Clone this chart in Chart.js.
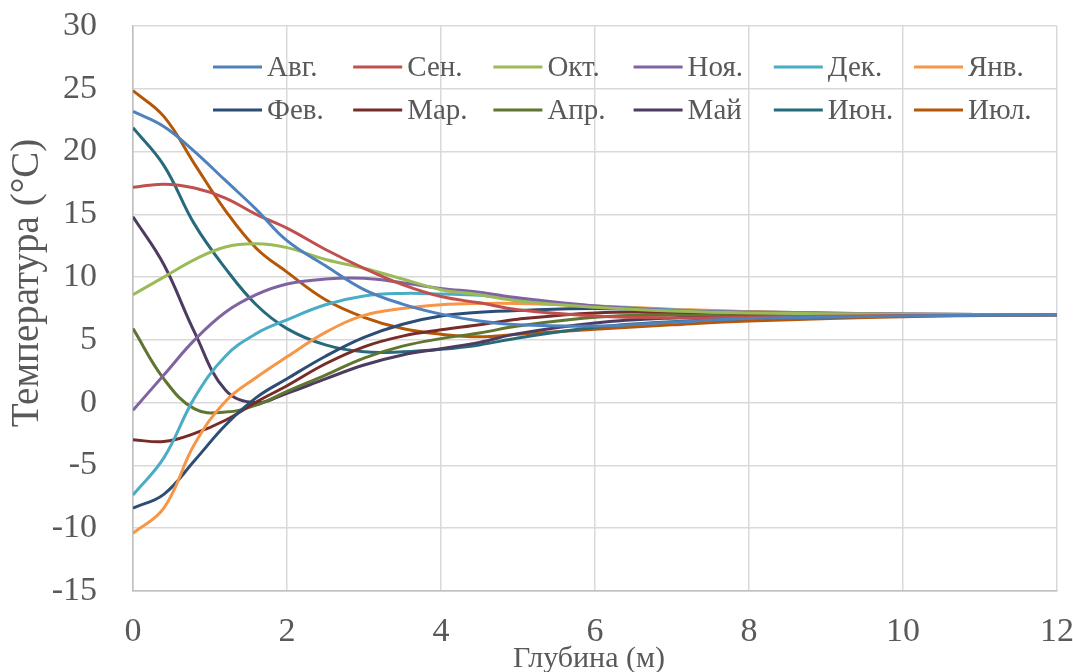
<!DOCTYPE html>
<html>
<head>
<meta charset="utf-8">
<script src="https://cdn.jsdelivr.net/npm/chart.js@4"></script>
<style>
  html, body { margin: 0; padding: 0; background: #fff; }
</style>
</head>
<body>
<canvas id="tempChart" width="1073" height="672"></canvas>
<script>
// Depth (m) and monthly ground temperature profiles (°C)
const depths = [0, 0.4, 0.8, 1.2, 1.6, 2, 2.5, 3, 3.5, 4, 4.5, 5, 6, 7, 8, 10, 12];
const months = ['Авг.', 'Сен.', 'Окт.', 'Ноя.', 'Дек.', 'Янв.', 'Фев.', 'Мар.', 'Апр.', 'Май', 'Июн.', 'Июл.'];

const aug = [23.2, 22.0, 20.0, 17.7, 15.4, 12.9, 10.9, 9.0, 7.85, 7.05, 6.5, 6.2, 6.1, 6.4, 6.7, 6.9, 7.0];
const sep = [17.15, 17.4, 17.1, 16.3, 15.0, 13.9, 12.2, 10.7, 9.4, 8.45, 7.95, 7.4, 6.9, 6.75, 6.8, 6.95, 7.0];
const oct = [8.6, 10.0, 11.4, 12.4, 12.65, 12.35, 11.4, 10.7, 9.85, 9.0, 8.6, 8.1, 7.6, 7.3, 7.15, 7.05, 7.0];
const nov = [-0.6, 2.2, 5.0, 7.2, 8.6, 9.45, 9.85, 9.9, 9.55, 9.1, 8.8, 8.35, 7.7, 7.35, 7.2, 7.05, 7.0];
const dec = [-7.35, -4.4, 0.4, 3.7, 5.5, 6.6, 7.8, 8.5, 8.7, 8.65, 8.55, 8.2, 7.7, 7.4, 7.2, 7.05, 7.0];
const jan = [-10.4, -8.4, -3.3, 0.1, 2.0, 3.65, 5.6, 6.95, 7.5, 7.8, 7.9, 7.9, 7.7, 7.45, 7.25, 7.05, 7.0];
const feb = [-8.4, -7.3, -4.6, -1.8, 0.4, 1.9, 3.7, 5.2, 6.25, 6.9, 7.2, 7.35, 7.5, 7.35, 7.25, 7.05, 7.0];
const mar = [-2.95, -3.1, -2.45, -1.4, 0.05, 1.35, 3.1, 4.45, 5.3, 5.8, 6.2, 6.65, 7.15, 7.2, 7.15, 7.05, 7.0];
const apr = [5.9, 1.9, -0.5, -0.75, -0.2, 0.9, 2.2, 3.55, 4.5, 5.1, 5.55, 6.1, 6.8, 7.0, 7.05, 7.0, 7.0];
const may = [14.8, 11.0, 5.6, 1.0, 0.0, 0.75, 1.9, 3.0, 3.8, 4.3, 4.8, 5.5, 6.35, 6.75, 6.9, 6.95, 7.0];
const jun = [21.9, 18.9, 14.2, 10.7, 7.8, 5.9, 4.6, 4.05, 4.05, 4.25, 4.6, 5.15, 6.0, 6.45, 6.7, 6.9, 7.0];
const jul = [24.85, 22.8, 19.0, 15.3, 12.3, 10.4, 8.2, 6.8, 5.9, 5.45, 5.25, 5.45, 5.85, 6.2, 6.5, 6.85, 7.0];

const series = [aug, sep, oct, nov, dec, jan, feb, mar, apr, may, jun, jul];
const colors = ['#4F81BD', '#C0504D', '#9BBB59', '#8064A2', '#4BACC6', '#F79646',
                '#2C4D75', '#772C2A', '#5F7530', '#4D3B62', '#276A7C', '#B65708'];

const xTitle = 'Глубина (м)';
const yTitle = 'Температура (°C)';

const FONT = '"Liberation Serif", "Times New Roman", serif';
const TEXT = '#595959';
Chart.defaults.font.family = FONT;
Chart.defaults.color = TEXT;

// legend drawn as a 6x2 grid inside the plot, plus axis titles placed like the original
const chartText = {
    id: 'chartText',
    afterDraw(chart) {
        const ctx = chart.ctx;
        ctx.save();
        ctx.font = '29px ' + FONT;
        ctx.fillStyle = TEXT;
        ctx.textBaseline = 'middle';
        chart.data.datasets.forEach((ds, i) => {
            const x = 213 + (i % 6) * 140.2;
            const y = 67 + Math.floor(i / 6) * 43;
            ctx.strokeStyle = ds.borderColor;
            ctx.lineWidth = 3;
            ctx.beginPath();
            ctx.moveTo(x, y);
            ctx.lineTo(x + 49, y);
            ctx.stroke();
            ctx.fillText(ds.label, x + 54, y + 1);
        });

        ctx.textAlign = 'center';
        ctx.font = '30px ' + FONT;
        ctx.fillText(xTitle, 589, 659);

        ctx.font = '39px ' + FONT;
        ctx.translate(28, 283);
        ctx.rotate(-Math.PI / 2);
        ctx.fillText(yTitle, 0, 0);
        ctx.restore();
    }
};

const ctx = document.getElementById('tempChart').getContext('2d');
new Chart(ctx, {
    type: 'line',
    data: {
        datasets: series.map((vals, i) => ({
            label: months[i],
            data: depths.map((d, j) => ({ x: d, y: vals[j] })),
            borderColor: colors[i],
            backgroundColor: colors[i],
            borderWidth: 3,
            pointRadius: 0,
            tension: 0.4,
            fill: false
        }))
    },
    options: {
        responsive: false,
        animation: false,
        devicePixelRatio: 1,
        layout: { padding: { top: 26, right: 16, left: 0, bottom: 0 } },
        plugins: {
            legend: { display: false },
            tooltip: { enabled: false }
        },
        scales: {
            x: {
                type: 'linear',
                min: 0, max: 12,
                ticks: { stepSize: 2, autoSkip: false, maxRotation: 0, padding: 21, font: { size: 34 }, color: TEXT },
                grid: { color: '#d9d9d9', lineWidth: 1.5, drawTicks: false },
                border: { color: '#bfbfbf', width: 1.5 },
                afterFit(scale) {
                    scale.height = 81;
                    scale.paddingLeft = 0;
                    scale.paddingRight = 0;
                }
            },
            y: {
                min: -15, max: 30,
                ticks: { stepSize: 5, padding: 36, font: { size: 34 }, color: TEXT },
                grid: { color: '#d9d9d9', lineWidth: 1.5, drawTicks: false },
                border: { color: '#bfbfbf', width: 1.5 },
                afterFit(scale) {
                    scale.width = 133;
                    scale.paddingTop = 0;
                    scale.paddingBottom = 0;
                }
            }
        }
    },
    plugins: [chartText]
});
</script>
</body>
</html>
